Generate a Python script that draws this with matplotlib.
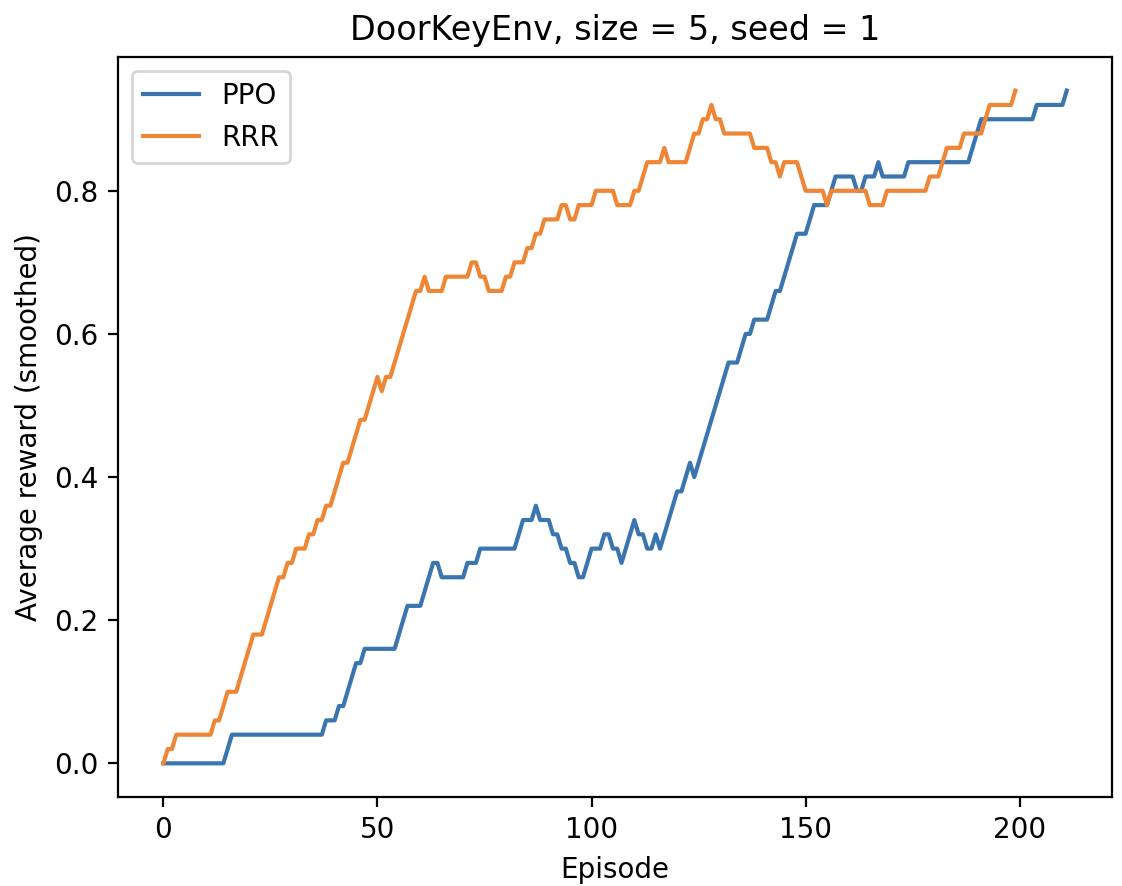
import matplotlib
matplotlib.use('Agg')
import matplotlib.pyplot as plt

# 平滑后的每回合平均奖励
ppo_reward = [
    0, 0, 0, 0, 0, 0, 0, 0, 0, 0,
    0, 0, 0, 0, 0, 0.02, 0.04, 0.04, 0.04, 0.04,
    0.04, 0.04, 0.04, 0.04, 0.04, 0.04, 0.04, 0.04, 0.04, 0.04,
    0.04, 0.04, 0.04, 0.04, 0.04, 0.04, 0.04, 0.04, 0.06, 0.06,
    0.06, 0.08, 0.08, 0.10, 0.12, 0.14, 0.14, 0.16, 0.16, 0.16,
    0.16, 0.16, 0.16, 0.16, 0.16, 0.18, 0.20, 0.22, 0.22, 0.22,
    0.22, 0.24, 0.26, 0.28, 0.28, 0.26, 0.26, 0.26, 0.26, 0.26,
    0.26, 0.28, 0.28, 0.28, 0.30, 0.30, 0.30, 0.30, 0.30, 0.30,
    0.30, 0.30, 0.30, 0.32, 0.34, 0.34, 0.34, 0.36, 0.34, 0.34,
    0.34, 0.32, 0.32, 0.30, 0.30, 0.28, 0.28, 0.26, 0.26, 0.28,
    0.30, 0.30, 0.30, 0.32, 0.32, 0.30, 0.30, 0.28, 0.30, 0.32,
    0.34, 0.32, 0.32, 0.30, 0.30, 0.32, 0.30, 0.32, 0.34, 0.36,
    0.38, 0.38, 0.40, 0.42, 0.40, 0.42, 0.44, 0.46, 0.48, 0.50,
    0.52, 0.54, 0.56, 0.56, 0.56, 0.58, 0.60, 0.60, 0.62, 0.62,
    0.62, 0.62, 0.64, 0.66, 0.66, 0.68, 0.70, 0.72, 0.74, 0.74,
    0.74, 0.76, 0.78, 0.78, 0.78, 0.78, 0.80, 0.82, 0.82, 0.82,
    0.82, 0.82, 0.80, 0.80, 0.82, 0.82, 0.82, 0.84, 0.82, 0.82,
    0.82, 0.82, 0.82, 0.82, 0.84, 0.84, 0.84, 0.84, 0.84, 0.84,
    0.84, 0.84, 0.84, 0.84, 0.84, 0.84, 0.84, 0.84, 0.84, 0.86,
    0.88, 0.90, 0.90, 0.90, 0.90, 0.90, 0.90, 0.90, 0.90, 0.90,
    0.90, 0.90, 0.90, 0.90, 0.92, 0.92, 0.92, 0.92, 0.92, 0.92,
    0.92, 0.94,
]

rrr_reward = [
    0, 0.02, 0.02, 0.04, 0.04, 0.04, 0.04, 0.04, 0.04, 0.04,
    0.04, 0.04, 0.06, 0.06, 0.08, 0.10, 0.10, 0.10, 0.12, 0.14,
    0.16, 0.18, 0.18, 0.18, 0.20, 0.22, 0.24, 0.26, 0.26, 0.28,
    0.28, 0.30, 0.30, 0.30, 0.32, 0.32, 0.34, 0.34, 0.36, 0.36,
    0.38, 0.40, 0.42, 0.42, 0.44, 0.46, 0.48, 0.48, 0.50, 0.52,
    0.54, 0.52, 0.54, 0.54, 0.56, 0.58, 0.60, 0.62, 0.64, 0.66,
    0.66, 0.68, 0.66, 0.66, 0.66, 0.66, 0.68, 0.68, 0.68, 0.68,
    0.68, 0.68, 0.70, 0.70, 0.68, 0.68, 0.66, 0.66, 0.66, 0.66,
    0.68, 0.68, 0.70, 0.70, 0.70, 0.72, 0.72, 0.74, 0.74, 0.76,
    0.76, 0.76, 0.76, 0.78, 0.78, 0.76, 0.76, 0.78, 0.78, 0.78,
    0.78, 0.80, 0.80, 0.80, 0.80, 0.80, 0.78, 0.78, 0.78, 0.78,
    0.80, 0.80, 0.82, 0.84, 0.84, 0.84, 0.84, 0.86, 0.84, 0.84,
    0.84, 0.84, 0.84, 0.86, 0.88, 0.88, 0.90, 0.90, 0.92, 0.90,
    0.90, 0.88, 0.88, 0.88, 0.88, 0.88, 0.88, 0.88, 0.86, 0.86,
    0.86, 0.86, 0.84, 0.84, 0.82, 0.84, 0.84, 0.84, 0.84, 0.82,
    0.80, 0.80, 0.80, 0.80, 0.80, 0.78, 0.80, 0.80, 0.80, 0.80,
    0.80, 0.80, 0.80, 0.80, 0.80, 0.78, 0.78, 0.78, 0.78, 0.80,
    0.80, 0.80, 0.80, 0.80, 0.80, 0.80, 0.80, 0.80, 0.80, 0.82,
    0.82, 0.82, 0.84, 0.86, 0.86, 0.86, 0.86, 0.88, 0.88, 0.88,
    0.88, 0.88, 0.90, 0.92, 0.92, 0.92, 0.92, 0.92, 0.92, 0.94,
]

fig = plt.figure(figsize=(5.61, 4.43), dpi=200)
ax = fig.add_axes([0.1054, 0.1005, 0.8856, 0.8352])

ax.plot(range(len(ppo_reward)), ppo_reward, color='#3b75af', label='PPO')
ax.plot(range(len(rrr_reward)), rrr_reward, color='#ef8636', label='RRR')

ax.set_xlabel('Episode')
ax.set_ylabel('Average reward (smoothed)')
ax.set_title('DoorKeyEnv, size = 5, seed = 1')
ax.legend(loc='upper left')

fig.savefig('out.png', dpi=200)
